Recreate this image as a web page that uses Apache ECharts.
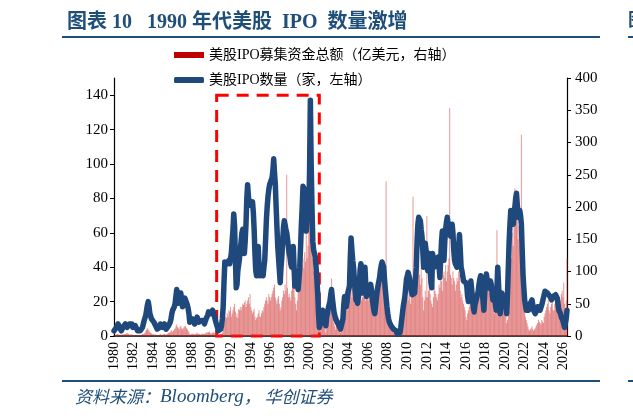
<!DOCTYPE html>
<html>
<head>
<meta charset="utf-8">
<script src="https://cdn.jsdelivr.net/npm/echarts@6/dist/echarts.min.js"></script>
<style>html,body{margin:0;padding:0;background:#fff;}#chart{width:633px;height:419px;}</style>
</head>
<body>
<div id="chart"></div>
<script>
// ---- Data ----
const startYear = 1980;
const endYear = 2026;
const endMonth = 5; // last month shown in 2026
const months = [];
for (let y = startYear; y <= endYear; y++) {
  for (let m = 1; m <= 12; m++) {
    if (y === endYear && m > endMonth) break;
    months.push(y + '-' + (m < 10 ? '0' + m : '' + m));
  }
}

const barName = '美股IPO募集资金总额（亿美元，右轴）';
const lineName = '美股IPO数量（家，左轴）';

// IPO count (left axis), monthly 1980-01 .. 2026-05
const ipoCount = [
  3,3,4,5,6,7,6,5,4,3,4,5,
  6,6,7,7,5,4,6,7,7,8,7,5,
  4,5,6,7,5,3,3,4,3,2,3,5,
  7,9,10,12,15,18,20,17,13,12,10,9,
  9,8,7,6,5,4,4,3,5,7,8,6,
  5,6,7,6,4,4,5,6,7,8,10,13,
  15,14,17,19,23,27,24,19,18,22,25,21,
  17,19,20,22,23,22,18,16,13,8,7,7,
  10,11,9,7,8,9,11,10,8,7,8,9,
  10,10,9,7,8,10,11,12,14,15,14,13,
  13,15,14,12,10,8,7,5,3,2,3,4,
  6,10,17,31,43,42,44,42,43,44,42,45,
  48,55,62,71,64,45,28,30,38,38,45,50,
  55,60,62,58,48,55,65,80,88,81,78,76,
  75,76,78,72,62,48,38,35,45,52,40,35,
  36,38,37,35,40,44,55,67,75,81,85,88,
  89,88,92,96,103,95,88,75,63,52,45,38,
  31,40,46,55,63,67,66,62,60,56,52,48,
  46,42,40,48,52,40,29,33,34,30,27,33,
  40,52,65,75,87,86,85,75,61,70,83,71,
  95,137,100,75,55,50,48,46,40,33,25,13,
  5,6,8,12,15,14,12,10,6,11,13,16,
  16,20,24,27,22,18,14,12,10,9,8,7,
  6,5,4,3,5,10,18,23,20,17,20,25,
  27,29,45,57,50,44,40,33,26,21,20,19,
  19,28,38,42,34,25,30,36,40,30,23,26,
  28,29,29,30,27,22,18,15,13,17,22,26,
  29,30,34,38,41,43,44,40,33,27,22,17,
  13,10,8,7,6,5,5,4,4,3,3,2,
  1,1,1,2,5,9,13,17,20,23,28,33,
  35,37,36,33,29,26,24,23,24,25,26,40,
  55,65,69,68,67,62,58,50,40,48,54,50,
  45,38,42,48,40,31,28,48,44,40,42,45,
  44,46,46,40,34,45,55,61,52,44,55,62,
  66,69,68,62,60,58,62,65,60,50,44,42,
  41,40,45,52,59,50,40,38,35,32,31,31,
  31,29,23,20,25,30,32,32,31,17,14,18,
  20,22,23,26,30,33,35,30,25,20,15,25,
  33,36,35,30,28,30,32,30,25,21,22,23,
  23,15,28,40,30,20,13,18,25,22,18,21,
  21,18,13,25,40,55,65,73,68,67,65,70,
  75,80,83,76,69,71,73,70,65,50,36,28,
  21,18,15,14,15,15,17,19,20,21,18,15,
  14,13,13,15,17,17,16,15,15,18,20,22,
  24,26,27,26,25,25,24,23,22,21,22,23,
  22,23,24,23,22,18,15,14,13,11,10,9,
  7,5,6,10,15
];

// IPO proceeds (right axis, 100m USD), monthly 1980-01 .. 2026-05
const ipoProceeds = [
  1,1,2,2,3,3,2,2,1,2,2,3,
  2,3,3,4,5,4,3,2,2,3,2,2,
  1,1,2,2,1,1,1,2,1,1,2,3,
  3,4,5,8,10,12,10,8,6,5,4,3,
  2,3,2,2,1,1,1,1,2,3,2,2,
  2,3,3,2,2,3,4,5,5,6,8,9,
  6,8,10,12,15,18,14,12,10,14,16,12,
  10,12,14,16,15,12,10,8,6,3,2,3,
  3,4,3,2,3,4,5,4,3,3,2,3,
  3,4,3,3,4,5,6,5,6,7,5,4,
  4,5,6,5,4,3,3,2,1,1,2,3,
  3,5,10,18,25,30,28,35,30,40,38,45,
  30,35,40,45,50,38,30,35,28,42,40,45,
  40,45,50,48,52,55,45,50,55,60,50,65,
  45,40,35,38,42,30,25,28,30,35,40,30,
  30,35,40,38,45,50,55,60,55,50,65,60,
  55,60,65,70,75,80,60,55,50,58,62,50,
  40,45,55,60,70,65,80,70,250,75,60,65,
  60,55,70,80,90,75,60,50,40,55,85,70,
  70,85,100,110,120,105,130,115,210,120,140,255,
  216,150,140,130,120,100,90,85,75,60,50,40,
  25,15,20,30,35,40,25,20,5,15,30,35,
  30,35,40,89,45,35,20,15,10,20,25,30,
  10,8,5,10,20,30,35,40,45,50,40,60,
  55,70,90,80,60,75,70,50,65,80,75,70,
  50,60,70,65,55,60,70,75,60,55,65,70,
  55,60,65,70,60,55,40,45,60,70,75,80,
  70,75,80,85,90,95,85,70,75,80,240,60,
  40,30,20,25,15,10,8,5,3,2,1,2,
  1,2,3,5,10,20,30,35,40,45,60,70,
  60,55,70,65,50,60,70,216,80,90,75,85,
  90,100,110,95,80,105,90,60,40,55,70,60,
  186,60,70,80,65,55,50,45,60,75,70,65,
  60,55,65,80,75,90,85,70,95,100,90,110,
  85,100,110,120,353,95,90,80,100,90,85,70,
  80,90,85,100,95,70,60,65,55,50,45,40,
  30,25,35,40,45,50,55,40,35,45,50,40,
  45,55,60,65,70,60,55,50,65,60,45,40,
  50,60,80,85,70,65,75,60,70,55,40,35,
  40,50,164,85,80,95,70,60,55,65,50,45,
  40,30,20,25,60,100,130,150,120,160,140,170,
  229,225,190,180,150,170,140,130,312,120,100,80,
  40,30,25,20,15,10,8,10,12,15,10,8,
  10,12,15,18,20,25,22,20,18,25,22,20,
  30,35,40,45,50,55,40,35,45,50,55,40,
  40,50,60,55,45,35,50,60,55,65,70,60,
  83,50,40,55,120
];

const leftTicks = [0, 20, 40, 60, 80, 100, 120, 140];
const rightTicks = [0, 50, 100, 150, 200, 250, 300, 350, 400];
const highlightStart = '1990-07';
const highlightEnd = '2001-01';

// ---- Chart ----
const serif = '"Liberation Serif", "Noto Sans CJK SC", serif';
const navy = '#1F4E79';
const chart = echarts.init(document.getElementById('chart'), null, { renderer: 'canvas' });

chart.setOption({
  animation: false,
  backgroundColor: '#fff',
  title: {
    text: '图表 10\u2002 1990 年代美股\u2002IPO\u2002数量激增',
    left: 62, top: 8,
    textStyle: { fontSize: 20, fontWeight: 'bold', color: navy, fontFamily: serif }
  },
  legend: {
    orient: 'vertical', left: 169, top: 43, itemGap: 11,
    itemWidth: 30, itemHeight: 6,
    textStyle: { fontSize: 14, color: '#000', fontFamily: serif },
    data: [
      { name: barName, icon: 'rect', itemStyle: { color: '#C00000', opacity: 1 } },
      { name: lineName, icon: 'roundRect', itemStyle: { color: '#1F497D' } }
    ]
  },
  grid: { left: 114, right: 66, top: 78, bottom: 83, containLabel: false },
  xAxis: {
    type: 'category', data: months, boundaryGap: false,
    axisLine: { lineStyle: { color: '#000', width: 1.5 } },
    axisTick: { show: false },
    axisLabel: {
      rotate: 90, fontSize: 14, color: '#000', fontFamily: serif, margin: 6,
      interval: (i, v) => v.endsWith('-01') && (parseInt(v) % 2 === 0),
      formatter: v => v.slice(0, 4)
    },
    splitLine: { show: false }
  },
  yAxis: [
    {
      type: 'value', min: 0, max: 150, interval: 10, position: 'left',
      axisLine: { show: true, lineStyle: { color: '#000', width: 1.2 } },
      axisTick: { show: true, length: 4, customValues: leftTicks, lineStyle: { color: '#000' } },
      axisLabel: { customValues: leftTicks, fontSize: 15, color: '#000', fontFamily: serif, margin: 6 },
      splitLine: { show: false }
    },
    {
      type: 'value', min: 0, max: 400, interval: 50, position: 'right',
      axisLine: { show: true, lineStyle: { color: '#000', width: 1.2 } },
      axisTick: { show: true, length: 4, customValues: rightTicks, lineStyle: { color: '#000' } },
      axisLabel: { customValues: rightTicks, fontSize: 15, color: '#000', fontFamily: serif, margin: 8 },
      splitLine: { show: false }
    }
  ],
  series: [
    {
      name: barName, type: 'bar', yAxisIndex: 1, data: ipoProceeds,
      barCategoryGap: '50%',
      itemStyle: { color: 'rgba(210,50,50,0.5)' }
    },
    {
      name: lineName, type: 'line', yAxisIndex: 0, data: ipoCount,
      symbol: 'none', smooth: false,
      lineStyle: { color: '#1F497D', width: 5.5, join: 'round', cap: 'round' },
      itemStyle: { color: '#1F497D' },
      markArea: {
        silent: true,
        itemStyle: { color: 'rgba(0,0,0,0)', borderColor: '#FF0000', borderWidth: 3, borderType: [12, 8] },
        data: [[{ xAxis: highlightStart, yAxis: 140 }, { xAxis: highlightEnd, yAxis: -2 }]]
      },
      z: 5
    }
  ],
  graphic: [
    { type: 'rect', shape: { x: 62, y: 36, width: 538, height: 2 }, style: { fill: navy } },
    { type: 'rect', shape: { x: 628, y: 36, width: 10, height: 2 }, style: { fill: navy } },
    { type: 'text', left: 628, top: 10, style: { text: '图', font: 'bold 18px "Noto Sans CJK SC"', fill: navy } },
    { type: 'rect', shape: { x: 62, y: 380, width: 538, height: 2 }, style: { fill: navy } },
    { type: 'rect', shape: { x: 628, y: 380, width: 10, height: 2 }, style: { fill: navy } },
    {
      type: 'text', left: 75, top: 387,
      style: {
        text: '{a|资料来源：}{b|Bloomberg}{a|， 华创证券}',
        fill: navy,
        rich: {
          a: { fontSize: 17, fontStyle: 'italic', fontFamily: '"Noto Sans CJK SC"', fill: navy, color: navy },
          b: { fontSize: 19, fontStyle: 'italic', fontFamily: '"Liberation Serif"', fill: navy, color: navy }
        }
      }
    }
  ]
});
</script>
</body>
</html>
